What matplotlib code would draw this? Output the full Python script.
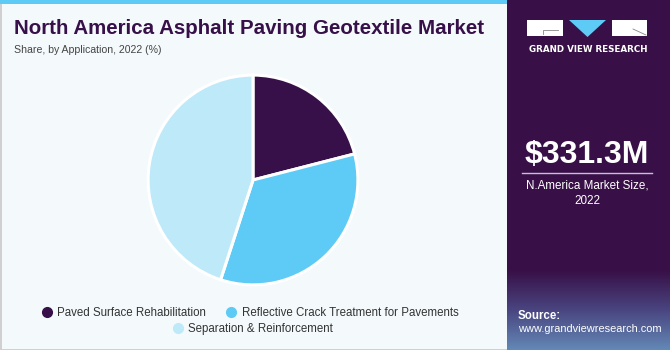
import numpy as np
import matplotlib
matplotlib.use("Agg")
import matplotlib.pyplot as plt
from matplotlib.patches import Rectangle, Polygon
from matplotlib.lines import Line2D

categories = ["Paved Surface Rehabilitation", "Reflective Crack Treatment for Pavements",
              "Separation & Reinforcement"]
shares = [21, 34, 45]
colors = ["#37104A", "#5DCBF5", "#BEE9F9"]

W, H = 670, 350
fig = plt.figure(figsize=(W / 100, H / 100), dpi=100)
fig.patch.set_facecolor("#F4F9FC")

def fx(x): return x / W
def fy(y): return 1 - y / H

# background decorations (pixel coords, y down)
bg = fig.add_axes([0, 0, 1, 1]); bg.set_xlim(0, W); bg.set_ylim(H, 0); bg.axis("off")
bg.add_patch(Rectangle((0, 0), 507, 4, color="#5DCBF5", lw=0))
bg.add_patch(Rectangle((0, 4), 1.5, H, color="#D0D0D0", lw=0))
bg.add_patch(Rectangle((0, H - 1.5), 507, 1.5, color="#D0D0D0", lw=0))

bg.text(14, 28, "North America Asphalt Paving Geotextile Market", fontsize=14.8,
        fontweight="bold", color="#37104A", family="Liberation Sans", va="center", zorder=1)
bg.text(14, 50, "Share, by Application, 2022 (%)", fontsize=7.6, color="#444444",
        family="Liberation Sans", va="center", zorder=1)

bg.add_patch(Rectangle((507, 0), W - 507, H, color="#381047", lw=0, zorder=2))
# bottom gradient in right panel
grad = np.linspace(0, 1, 80)[:, None]
cmap = matplotlib.colors.LinearSegmentedColormap.from_list("g", ["#381047", "#4A4580", "#6388B5"])
bg.imshow(grad, extent=(507, W, H, 270), cmap=cmap, aspect="auto", zorder=3)
# logo
bg.add_patch(Rectangle((527, 20), 36, 16, color="white", lw=0, zorder=4))
bg.plot([543, 543, 558], [34, 30, 30], color="#888888", lw=0.6, zorder=5)
bg.add_patch(Polygon([(569, 20), (606, 20), (587.5, 37)], color="#5DCBF5", lw=0, zorder=4))
bg.add_patch(Rectangle((612, 20), 35, 16, color="white", lw=0, zorder=4))
bg.plot([633, 646], [29, 35], color="#888888", lw=0.6, zorder=5)
bg.plot([522, 652], [173, 173], color="#C8C0D8", lw=1, zorder=4)

bg.text(588, 50, "GRAND VIEW RESEARCH", fontsize=6.3, fontweight="bold",
        color="white", ha="center", va="center", zorder=5)
bg.text(587, 155, "$331.3M", fontsize=23, fontweight="bold", color="white",
        ha="center", va="center", family="Liberation Sans", zorder=5)
bg.text(587, 186, "N.America Market Size,", fontsize=8.4, color="white",
        ha="center", va="center", family="Liberation Sans", zorder=5)
bg.text(587, 201, "2022", fontsize=8.4, color="white",
        ha="center", va="center", family="Liberation Sans", zorder=5)
bg.text(518, 316, "Source:", fontsize=8.3, fontweight="bold", color="white",
        va="center", family="Liberation Sans", zorder=5)
bg.text(518, 329, "www.grandviewresearch.com", fontsize=7.9, color="white",
        va="center", family="Liberation Sans", zorder=5)

# pie
cx, cy, r = 253, 180, 107
ax = fig.add_axes([fx(cx - r), fy(cy + r), 2 * r / W, 2 * r / H])
ax.pie(shares, colors=colors, startangle=90, counterclock=False,
       wedgeprops=dict(edgecolor="white", linewidth=2.2))
ax.set_xlim(-1.02, 1.02); ax.set_ylim(-1.02, 1.02)
ax.set_aspect("auto")

# legend
handles = [Line2D([], [], marker="o", ls="", ms=7, mfc=c, mec=c) for c in colors]
kw = dict(frameon=False, handletextpad=0.3, columnspacing=1.6, handlelength=1.2,
          prop=dict(family="Liberation Sans", size=8.3), labelcolor="#333333")
fig.legend(handles[:2], categories[:2], ncol=2, loc="center", bbox_to_anchor=(fx(249), fy(313)), **kw)
fig.legend(handles[2:], categories[2:], ncol=1, loc="center", bbox_to_anchor=(fx(252), fy(329)), **kw)

fig.savefig("out.png", dpi=100, facecolor=fig.get_facecolor())
